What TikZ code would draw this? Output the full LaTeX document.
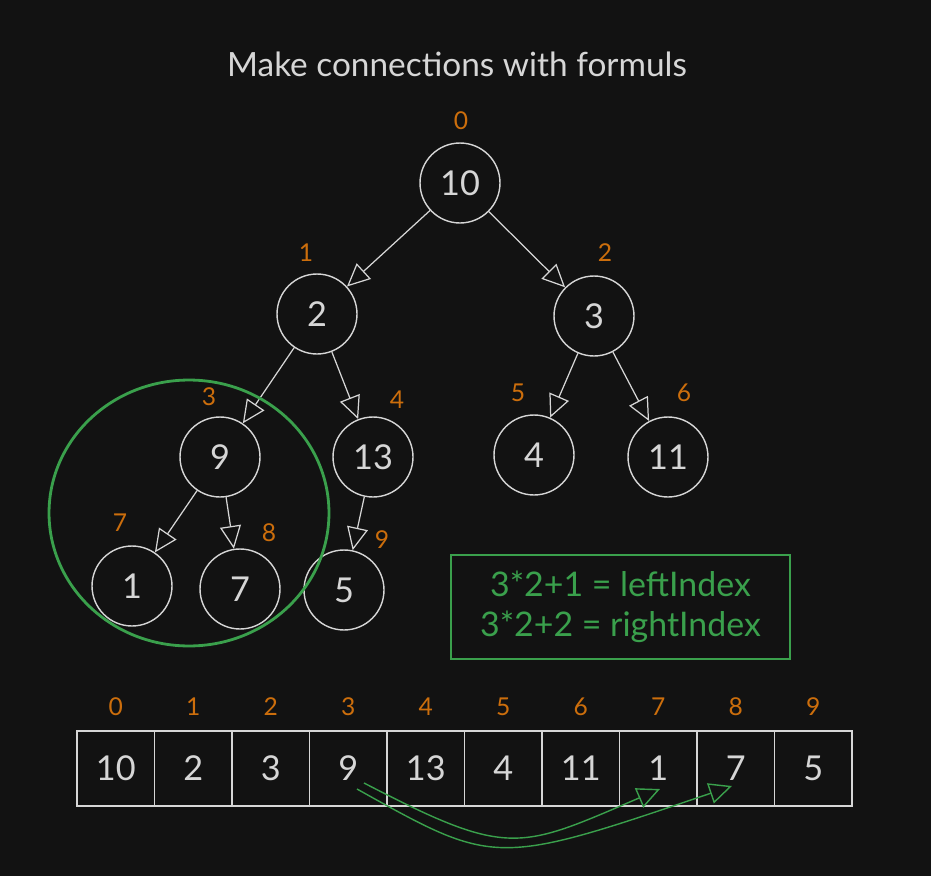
\documentclass[tikz,border=0pt]{standalone}
\usepackage{fontspec}
\setmainfont{Lato}
\usepackage{tikz,xcolor}
\usetikzlibrary{positioning,arrows.meta}

\definecolor{bgdark}{RGB}{18,18,18}
\definecolor{nodegray}{RGB}{214,214,214}
\definecolor{idxorange}{RGB}{204,110,12}
\definecolor{hintgreen}{RGB}{58,160,76}

\begin{document}
\begin{tikzpicture}[
        x=0.02cm, y=-0.02cm,
        heapnode/.style={circle, draw=nodegray, line width=0.8pt, minimum size=1.6cm, inner sep=0pt, text=nodegray, font=\fontsize{19.5}{21}\selectfont},
        idx/.style={text=idxorange, inner sep=0pt, font=\fontsize{14}{16}\selectfont},
        cell/.style={rectangle, draw=nodegray, line width=0.8pt, minimum width=1.55cm, minimum height=1.5cm, inner sep=0pt, text=nodegray, font=\fontsize{19.5}{21}\selectfont},
        link/.style={draw=nodegray, line width=0.7pt, -{Triangle[open, length=13pt, width=12pt]}},
        hint/.style={draw=hintgreen, line width=0.8pt, -{Triangle[open, length=13pt, width=12pt]}}
    ]
        % Background
        \fill[bgdark] (0,0) rectangle (931,876);
        \useasboundingbox (0,0) rectangle (931,876);

        % Title
        \node[text=nodegray, font=\fontsize{19}{21}\selectfont] (title) at (457,64) {Make connections with formuls};

        % Define heap nodes
        \node[heapnode] (n10) at (460,183) {10};
        \node[heapnode] (n2) at (317,314) {2};
        \node[heapnode] (n3) at (594,316) {3};
        \node[heapnode] (n9) at (220,457) {9};
        \node[heapnode] (n13) at (373,457) {13};
        \node[heapnode] (n4) at (534,455) {4};
        \node[heapnode] (n11) at (668,457) {11};
        \node[heapnode] (n1) at (132,586) {1};
        \node[heapnode] (n7) at (240,589) {7};
        \node[heapnode] (n5) at (344,590) {5};

        % Index labels
        \node[idx] (t0) at (461,121) {0};
        \node[idx] (t1) at (306,253) {1};
        \node[idx] (t2) at (605,253) {2};
        \node[idx] (t3) at (209,397) {3};
        \node[idx] (t4) at (397,400) {4};
        \node[idx] (t5) at (518,393) {5};
        \node[idx] (t6) at (684,393) {6};
        \node[idx] (t7) at (120,523) {7};
        \node[idx] (t8) at (269,533) {8};
        \node[idx] (t9) at (382,540) {9};

        % Parent -> child
        \draw[link] (n10) -- (n2);
        \draw[link] (n10) -- (n3);
        \draw[link] (n2) -- (n9);
        \draw[link] (n2) -- (n13);
        \draw[link] (n3) -- (n4);
        \draw[link] (n3) -- (n11);
        \draw[link] (n9) -- (n1);
        \draw[link] (n9) -- (n7);
        \draw[link] (n13) -- (n5);

        % Highlight of the subtree
        \draw[hintgreen, line width=1.6pt] (189,513) ellipse [x radius=2.8cm, y radius=2.66cm];

        % Formula box
        \node[draw=hintgreen, line width=0.8pt, minimum width=6.78cm, minimum height=2.08cm, align=center, text=hintgreen, font=\fontsize{19.3}{23}\selectfont] (formula) at (620.5,607) {3*2+1 = leftIndex\\3*2+2 = rightIndex};

        % Array
        \foreach \v [count=\i from 0] in {10,2,3,9,13,4,11,1,7,5} {
            \node[cell] (c\i) at ({77+77.5*(\i+0.5)},768.5) {\v};
            \node[idx] (a\i) at ({77+77.5*(\i+0.5)},707) {\i};
        }

        % Child positions in the array
        \coordinate (from1) at (364,783);
        \coordinate (from2) at (357,789);
        \coordinate (to1) at (660,789);
        \coordinate (to2) at (732,786);
        \draw[hint] (from1) .. controls (509,858) and (518,850) .. (to1);
        \draw[hint] (from2) .. controls (495,866) and (494,867) .. (to2);

    \end{tikzpicture}
\end{document}
